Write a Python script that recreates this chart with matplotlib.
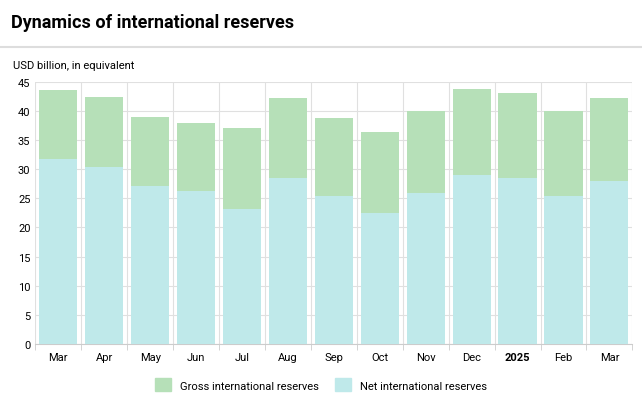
import matplotlib
matplotlib.use("Agg")
import matplotlib.pyplot as plt
from matplotlib.patches import Patch

months = ["Mar","Apr","May","Jun","Jul","Aug","Sep","Oct","Nov","Dec","2025","Feb","Mar"]
gross = [43.6,42.4,39.0,38.0,37.1,42.3,38.8,36.4,40.0,43.8,43.0,40.0,42.3]
net = [31.8,30.4,27.1,26.3,23.2,28.4,25.4,22.5,25.9,29.0,28.4,25.4,28.0]

plt.rcParams['font.family'] = ['Roboto','DejaVu Sans']
fig = plt.figure(figsize=(6.42,4.14), dpi=100)
fig.text(0.017,0.945,"Dynamics of international reserves",fontsize=13,fontweight='bold',va='center')
fig.add_artist(plt.Line2D([0,1],[0.885,0.885],color='#dddddd',lw=1.5))
fig.text(0.02,0.84,"USD billion, in equivalent",fontsize=8,va='center')
ax = fig.add_axes([0.055,0.167,0.93,0.633])
x = range(len(months))
gc='#b6e0b8'; nc='#bfe9ea'
ax.bar(x,gross,width=0.83,color=gc,zorder=2)
ax.bar(x,net,width=0.83,color=nc,zorder=3)
ax.set_xlim(-0.5,len(months)-0.5)
ax.set_ylim(0,45)
ax.set_yticks(range(0,46,5))
ax.set_xticks(list(x))
ax.set_xticklabels(months,fontsize=8)
for t in ax.get_xticklabels():
    if t.get_text()=="2025": t.set_fontweight('bold')
ax.tick_params(axis='y',labelsize=8,length=0)
ax.tick_params(axis='x',length=0,pad=6)
ax.set_xticks([i+0.5 for i in range(-1,len(months))],minor=True)
ax.tick_params(axis='x',which='minor',length=4,color='#cccccc')
ax.grid(axis='y',color='#e0e0e0',lw=0.8,zorder=0)
ax.grid(axis='x',which='minor',color='#e0e0e0',lw=0.8,zorder=0)
for s in ['top','right','left']: ax.spines[s].set_visible(False)
ax.spines['bottom'].set_color('#cccccc')
fig.legend(handles=[Patch(color=gc,label="Gross international reserves"),
                    Patch(color=nc,label="Net international reserves")],
           loc='center',bbox_to_anchor=(0.5,0.068),ncol=2,frameon=False,fontsize=8,
           handlelength=1.4,handleheight=1.4,columnspacing=1.5)
fig.savefig("out.png",dpi=100)
